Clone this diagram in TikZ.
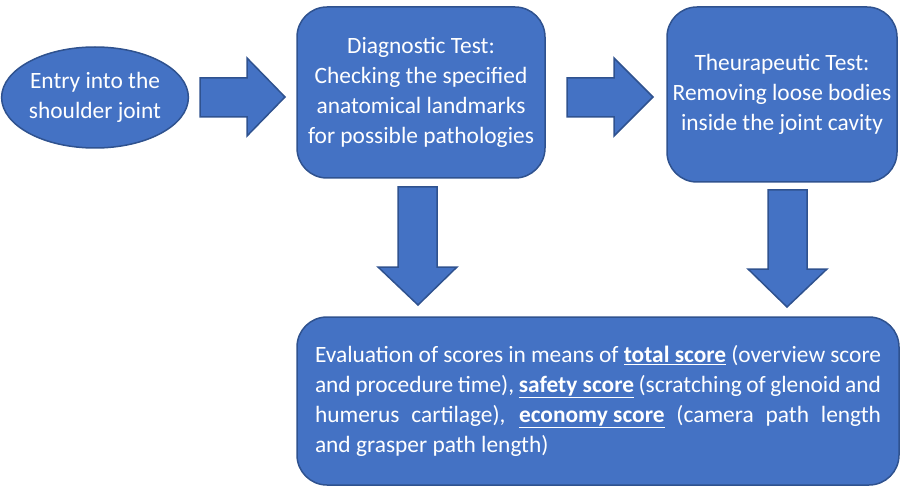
\documentclass[tikz,border=0pt]{standalone}
\usepackage{fontspec}
\setmainfont{Carlito}
\usetikzlibrary{shapes.geometric}
\definecolor{boxblue}{HTML}{4472C4}
\definecolor{edgeblue}{HTML}{2F528F}

\begin{document}
\begin{tikzpicture}[x=1pt, y=-1pt,
  box/.style = {draw=edgeblue, fill=boxblue, line width=1.5pt, text=white, rounded corners=30pt, inner sep=0pt, align=center, font=\fontsize{23.4}{30}\selectfont},
  oval/.style = {draw=edgeblue, fill=boxblue, line width=1.5pt, text=white, ellipse, inner sep=0pt, align=center, font=\fontsize{23.4}{30}\selectfont},
  blockarrow/.style = {draw=edgeblue, fill=boxblue, line width=1.5pt, line join=miter}]
\useasboundingbox (0,0) rectangle (901,486);

%top row
\node[oval, minimum width=174pt, minimum height=101pt] (entry) at (95,97.5) {Entry into the\\shoulder joint};
\node[box, minimum width=248pt, minimum height=171pt] (diag) at (421,92.5) {Diagnostic Test:\\Checking the specified\\anatomical landmarks\\for possible pathologies};
\node[box, minimum width=230pt, minimum height=175pt] (ther) at (782,94.5) {Theurapeutic Test:\\Removing loose bodies\\inside the joint cavity};

%bottom box
\node[box, minimum width=602pt, minimum height=168pt, text width=566pt, align=justify] (eval) at (598,401) {Evaluation of scores in means of \underline{\textbf{total score}} (overview score\linebreak and procedure time), \underline{\textbf{safety score}} (scratching of glenoid and\linebreak humerus cartilage), \underline{\textbf{economy score}} (camera path length\linebreak and grasper path length)};

%block arrows
\draw[blockarrow] (200,78) -- (247,78) -- (247,58) -- (285,97) -- (247,136) -- (247,117) -- (200,117) -- cycle;
\draw[blockarrow] (567,78) -- (614,78) -- (614,58) -- (653,97) -- (614,136) -- (614,117) -- (567,117) -- cycle;
\draw[blockarrow] (398,187) -- (398,267) -- (378,267) -- (418,305) -- (457,267) -- (437,267) -- (437,187) -- cycle;
\draw[blockarrow] (768,190) -- (768,269) -- (748,269) -- (787,307) -- (827,269) -- (807,269) -- (807,190) -- cycle;

\end{tikzpicture}
\end{document}
